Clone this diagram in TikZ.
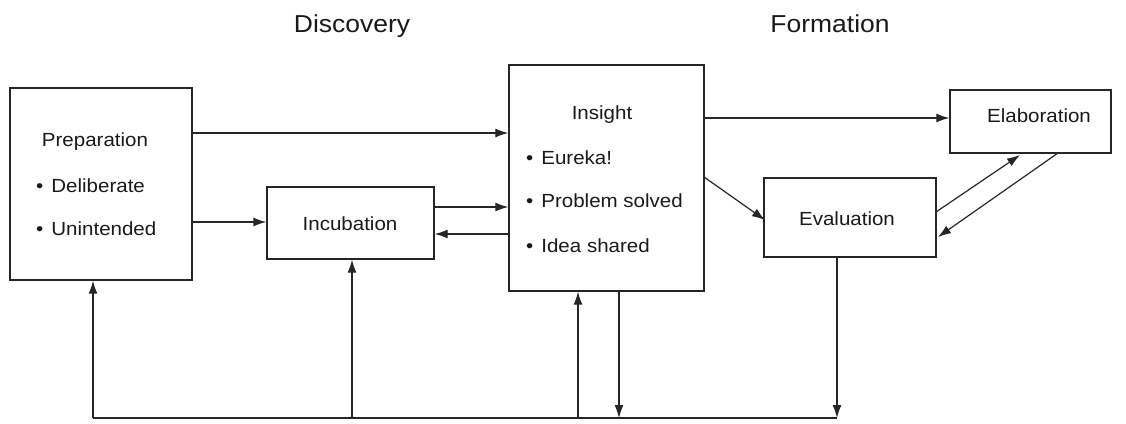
\documentclass[tikz,border=0pt]{standalone}
\usepackage{fontspec}
\setmainfont[FakeStretch=1.08]{Liberation Sans}
\usetikzlibrary{arrows.meta}
\begin{document}
\begin{tikzpicture}[x=1pt,y=-1pt,
  box/.style={draw=black!85,line width=1.4pt,rectangle,inner sep=0pt},
  arr/.style={draw=black!85,line width=1.2pt,-{Latex[length=13pt,width=9pt]}},
  ln/.style={draw=black!85,line width=1.2pt},
  txt/.style={anchor=base west,font=\fontsize{19}{22}\selectfont,inner sep=0pt,text=black!90},
  ctxt/.style={anchor=base,font=\fontsize{19}{22}\selectfont,inner sep=0pt,text=black!90},
  ttl/.style={anchor=base,font=\fontsize{24.5}{28}\selectfont,inner sep=0pt,text=black!90}]
\useasboundingbox (0,0) rectangle (1126,423);
% boxes
\node[box,minimum width=182pt,minimum height=192pt] (prep) at (101,184) {};
\node[box,minimum width=167pt,minimum height=72pt] (incu) at (350.5,223) {};
\node[box,minimum width=195pt,minimum height=226pt] (ins) at (606.5,178) {};
\node[box,minimum width=161pt,minimum height=63pt] (elab) at (1030.5,121.5) {};
\node[box,minimum width=172pt,minimum height=79pt] (eval) at (850,217.5) {};
% titles
\node[ttl] (tdisc) at (352,32) {Discovery};
\node[ttl] (tform) at (830,32) {Formation};
% texts
\node[ctxt] (tprep) at (95,146) {Preparation};
\node[txt] (tdel) at (36,192) {\textbullet\hspace{8pt}Deliberate};
\node[txt] (tuni) at (36,235) {\textbullet\hspace{8pt}Unintended};
\node[ctxt] (tinc) at (350,230) {Incubation};
\node[ctxt] (tins) at (602,119) {Insight};
\node[txt] (teur) at (526,164) {\textbullet\hspace{8pt}Eureka!};
\node[txt] (tprob) at (526,207) {\textbullet\hspace{8pt}Problem solved};
\node[txt] (tidea) at (526,252) {\textbullet\hspace{8pt}Idea shared};
\node[ctxt] (telab) at (1039,122) {Elaboration};
\node[ctxt] (teval) at (847,225) {Evaluation};
% horizontal connectors
\draw[arr] (prep.east |- 0,133) -- (ins.west |- 0,133);
\draw[arr] (prep.east |- 0,222) -- (incu.west |- 0,222);
\draw[arr] (incu.east |- 0,207) -- (ins.west |- 0,207);
\draw[arr] (ins.west |- 0,234) -- (incu.east |- 0,234);
\draw[arr] (ins.east |- 0,118) -- (elab.west |- 0,118);
% diagonals
\coordinate (insd) at (704,177);
\coordinate (evin) at (765,220);
\draw[arr] (insd) -- (evin);
\coordinate (evo) at (936,212);
\coordinate (elin) at (1020,155);
\draw[arr] (evo) -- (elin);
\coordinate (elo) at (1058,153);
\coordinate (evi) at (938,237);
\draw[arr] (elo) -- (evi);
% bottom loop
\coordinate (bl) at (93,418);
\coordinate (br) at (837,418);
\draw[ln] (bl) -- (br);
\draw[arr] (bl) -- (prep.south -| bl);
\draw[arr] (352,418) -- (incu.south -| 352,0);
\draw[arr] (578,418) -- (ins.south -| 578,0);
\draw[arr] (ins.south -| 619,0) -- (619,418);
\draw[arr] (eval.south -| br) -- (br);
\end{tikzpicture}
\end{document}
